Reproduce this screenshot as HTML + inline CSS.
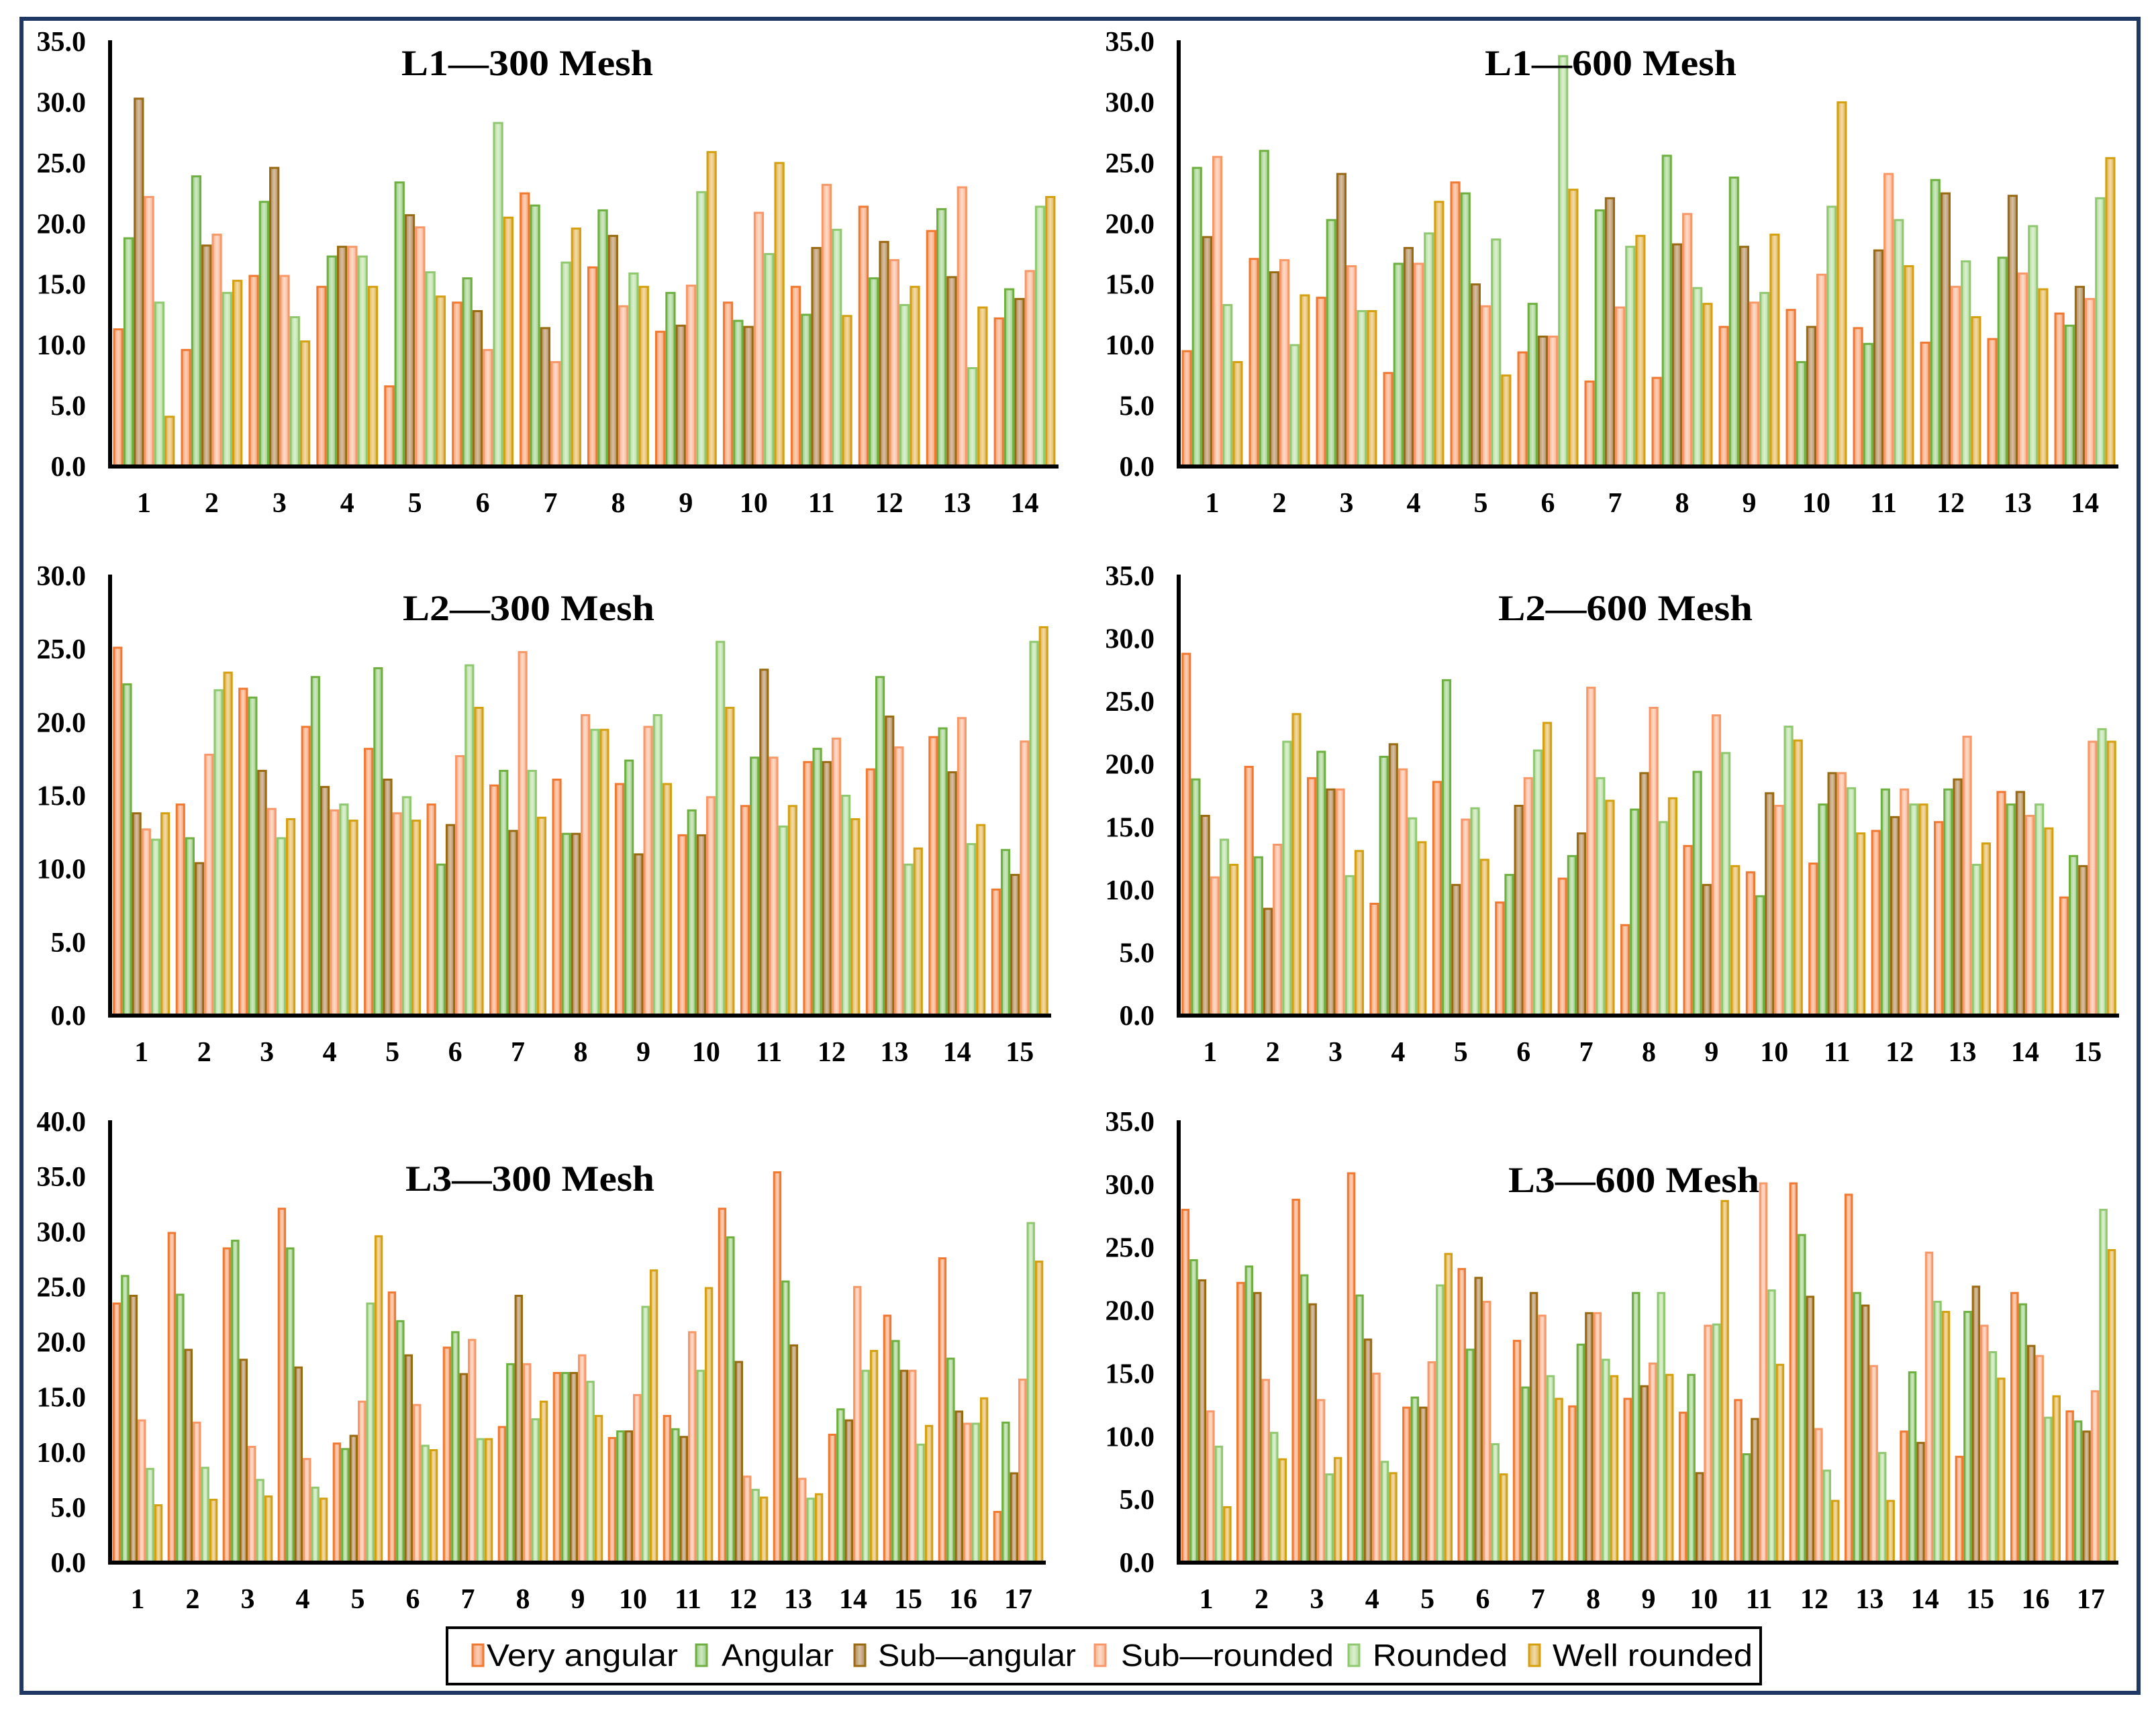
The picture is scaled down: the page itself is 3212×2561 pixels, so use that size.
<!DOCTYPE html>
<html><head><meta charset="utf-8"><style>
html,body{margin:0;padding:0;background:#fff;}
svg{display:block;}
</style></head><body>
<svg id="fig" xmlns="http://www.w3.org/2000/svg" width="3212" height="2561" viewBox="0 0 3212 2561">
<defs>
<linearGradient id="g0" x1="0" x2="1"><stop offset="0" stop-color="#F4A070"/><stop offset="0.5" stop-color="#FCD0B8"/><stop offset="1" stop-color="#F4A070"/></linearGradient>
<linearGradient id="g1" x1="0" x2="1"><stop offset="0" stop-color="#98CC80"/><stop offset="0.5" stop-color="#D0E8C4"/><stop offset="1" stop-color="#98CC80"/></linearGradient>
<linearGradient id="g2" x1="0" x2="1"><stop offset="0" stop-color="#B08A58"/><stop offset="0.5" stop-color="#D8C0A4"/><stop offset="1" stop-color="#B08A58"/></linearGradient>
<linearGradient id="g3" x1="0" x2="1"><stop offset="0" stop-color="#F8B08C"/><stop offset="0.5" stop-color="#FDDCCB"/><stop offset="1" stop-color="#F8B08C"/></linearGradient>
<linearGradient id="g4" x1="0" x2="1"><stop offset="0" stop-color="#B0DC98"/><stop offset="0.5" stop-color="#DDF0D2"/><stop offset="1" stop-color="#B0DC98"/></linearGradient>
<linearGradient id="g5" x1="0" x2="1"><stop offset="0" stop-color="#E0B050"/><stop offset="0.5" stop-color="#F2DCA8"/><stop offset="1" stop-color="#E0B050"/></linearGradient>
</defs>
<rect x="32" y="28" width="3154" height="2494" fill="none" stroke="#1F3864" stroke-width="6"/>
<g id="panels"></g>
<g>
<rect x="666" y="2425" width="1957" height="84" fill="#fff" stroke="#000" stroke-width="4"/>
<rect x="704" y="2450" width="16" height="32" fill="url(#g0)" stroke="#F07830" stroke-width="3"/>
<text x="725" y="2482" font-family="Liberation Sans, sans-serif" font-size="46" textLength="285" lengthAdjust="spacingAndGlyphs">Very angular</text>
<rect x="1037" y="2450" width="16" height="32" fill="url(#g1)" stroke="#6EB040" stroke-width="3"/>
<text x="1075" y="2482" font-family="Liberation Sans, sans-serif" font-size="46" textLength="167" lengthAdjust="spacingAndGlyphs">Angular</text>
<rect x="1273" y="2450" width="16" height="32" fill="url(#g2)" stroke="#9A6A10" stroke-width="3"/>
<text x="1308" y="2482" font-family="Liberation Sans, sans-serif" font-size="46" textLength="295" lengthAdjust="spacingAndGlyphs">Sub—angular</text>
<rect x="1631" y="2450" width="16" height="32" fill="url(#g3)" stroke="#F89868" stroke-width="3"/>
<text x="1670" y="2482" font-family="Liberation Sans, sans-serif" font-size="46" textLength="317" lengthAdjust="spacingAndGlyphs">Sub—rounded</text>
<rect x="2009" y="2450" width="16" height="32" fill="url(#g4)" stroke="#90C870" stroke-width="3"/>
<text x="2045" y="2482" font-family="Liberation Sans, sans-serif" font-size="46" textLength="201" lengthAdjust="spacingAndGlyphs">Rounded</text>
<rect x="2278" y="2450" width="16" height="32" fill="url(#g5)" stroke="#D4A010" stroke-width="3"/>
<text x="2313" y="2482" font-family="Liberation Sans, sans-serif" font-size="46" textLength="298" lengthAdjust="spacingAndGlyphs">Well rounded</text>
</g>
</svg>
<script>
// L1 300 Mesh
const l1_300_veryAngular=[11.3,9.6,15.7,14.8,6.6,13.5,22.5,16.4,11.1,13.5,14.8,21.4,19.4,12.2];
const l1_300_angular=[18.8,23.9,21.8,17.3,23.4,15.5,21.5,21.1,14.3,12.0,12.5,15.5,21.2,14.6];
const l1_300_subAngular=[30.3,18.2,24.6,18.1,20.7,12.8,11.4,19.0,11.6,11.5,18.0,18.5,15.6,13.8];
const l1_300_subRounded=[22.2,19.1,15.7,18.1,19.7,9.6,8.6,13.2,14.9,20.9,23.2,17.0,23.0,16.1];
const l1_300_rounded=[13.5,14.3,12.3,17.3,16.0,28.3,16.8,15.9,22.6,17.5,19.5,13.3,8.1,21.4];
const l1_300_wellRounded=[4.1,15.3,10.3,14.8,14.0,20.5,19.6,14.8,25.9,25.0,12.4,14.8,13.1,22.2];
// L1 600 Mesh
const l1_600_veryAngular=[9.5,17.1,13.9,7.7,23.4,9.4,7.0,7.3,11.5,12.9,11.4,10.2,10.5,12.6];
const l1_600_angular=[24.6,26.0,20.3,16.7,22.5,13.4,21.1,25.6,23.8,8.6,10.1,23.6,17.2,11.6];
const l1_600_subAngular=[18.9,16.0,24.1,18.0,15.0,10.7,22.1,18.3,18.1,11.5,17.8,22.5,22.3,14.8];
const l1_600_subRounded=[25.5,17.0,16.5,16.7,13.2,10.7,13.1,20.8,13.5,15.8,24.1,14.8,15.9,13.8];
const l1_600_rounded=[13.3,10.0,12.8,19.2,18.7,33.8,18.1,14.7,14.3,21.4,20.3,16.9,19.8,22.1];
const l1_600_wellRounded=[8.6,14.1,12.8,21.8,7.5,22.8,19.0,13.4,19.1,30.0,16.5,12.3,14.6,25.4];
// L2 300 Mesh
const l2_300_veryAngular=[25.1,14.4,22.3,19.7,18.2,14.4,15.7,16.1,15.8,12.3,14.3,17.3,16.8,19.0,8.6];
const l2_300_angular=[22.6,12.1,21.7,23.1,23.7,10.3,16.7,12.4,17.4,14.0,17.6,18.2,23.1,19.6,11.3];
const l2_300_subAngular=[13.8,10.4,16.7,15.6,16.1,13.0,12.6,12.4,11.0,12.3,23.6,17.3,20.4,16.6,9.6];
const l2_300_subRounded=[12.7,17.8,14.1,14.0,13.8,17.7,24.8,20.5,19.7,14.9,17.6,18.9,18.3,20.3,18.7];
const l2_300_rounded=[12.0,22.2,12.1,14.4,14.9,23.9,16.7,19.5,20.5,25.5,12.9,15.0,10.3,11.7,25.5];
const l2_300_wellRounded=[13.8,23.4,13.4,13.3,13.3,21.0,13.5,19.5,15.8,21.0,14.3,13.4,11.4,13.0,26.5];
// L2 600 Mesh
const l2_600_veryAngular=[28.8,19.8,18.9,8.9,18.6,9.0,10.9,7.2,13.5,11.4,12.1,14.7,15.4,17.8,9.4];
const l2_600_angular=[18.8,12.6,21.0,20.6,26.7,11.2,12.7,16.4,19.4,9.5,16.8,18.0,18.0,16.8,12.7];
const l2_600_subAngular=[15.9,8.5,18.0,21.6,10.4,16.7,14.5,19.3,10.4,17.7,19.3,15.8,18.8,17.8,11.9];
const l2_600_subRounded=[11.0,13.6,18.0,19.6,15.6,18.9,26.1,24.5,23.9,16.7,19.3,18.0,22.2,15.9,21.8];
const l2_600_rounded=[14.0,21.8,11.1,15.7,16.5,21.1,18.9,15.4,20.9,23.0,18.1,16.8,12.0,16.8,22.8];
const l2_600_wellRounded=[12.0,24.0,13.1,13.8,12.4,23.3,17.1,17.3,11.9,21.9,14.5,16.8,13.7,14.9,21.8];
// L3 300 Mesh
const l3_300_veryAngular=[23.5,29.9,28.5,32.1,10.8,24.5,19.5,12.3,17.2,11.3,13.3,32.1,35.4,11.6,22.4,27.6,4.6];
const l3_300_angular=[26.0,24.3,29.2,28.5,10.3,21.9,20.9,18.0,17.2,11.9,12.1,29.5,25.5,13.9,20.1,18.5,12.7];
const l3_300_subAngular=[24.2,19.3,18.4,17.7,11.5,18.8,17.1,24.2,17.2,11.9,11.4,18.2,19.7,12.9,17.4,13.7,8.1];
const l3_300_subRounded=[12.9,12.7,10.5,9.4,14.6,14.3,20.2,18.0,18.8,15.2,20.9,7.8,7.6,25.0,17.4,12.6,16.6];
const l3_300_rounded=[8.5,8.6,7.5,6.8,23.5,10.6,11.2,13.0,16.4,23.2,17.4,6.6,5.8,17.4,10.7,12.6,30.8];
const l3_300_wellRounded=[5.2,5.7,6.0,5.8,29.6,10.2,11.2,14.6,13.3,26.5,24.9,5.9,6.2,19.2,12.4,14.9,27.3];
// L3 600 Mesh
const l3_600_veryAngular=[28.0,22.2,28.8,30.9,12.3,23.3,17.6,12.4,13.0,11.9,12.9,30.1,29.2,10.4,8.4,21.4,12.0];
const l3_600_angular=[24.0,23.5,22.8,21.2,13.1,16.9,13.9,17.3,21.4,14.9,8.6,26.0,21.4,15.1,19.9,20.5,11.2];
const l3_600_subAngular=[22.4,21.4,20.5,17.7,12.3,22.6,21.4,19.8,14.0,7.1,11.4,21.1,20.4,9.5,21.9,17.2,10.4];
const l3_600_subRounded=[12.0,14.5,12.9,15.0,15.9,20.7,19.6,19.8,15.8,18.8,30.1,10.6,15.6,24.6,18.8,16.4,13.6];
const l3_600_rounded=[9.2,10.3,7.0,8.0,22.0,9.4,14.8,16.1,21.4,18.9,21.6,7.3,8.7,20.7,16.7,11.5,28.0];
const l3_600_wellRounded=[4.4,8.2,8.3,7.1,24.5,7.0,13.0,14.8,14.9,28.7,15.7,4.9,4.9,19.9,14.6,13.2,24.8];

const seriesNames=['very-angular','angular','sub-angular','sub-rounded','rounded','well-rounded'];
const strokes=['#F07830','#6EB040','#9A6A10','#F89868','#90C870','#D4A010'];
const NS='http://www.w3.org/2000/svg';
const root=document.getElementById('panels');

function mk(tag,attrs,parent){const e=document.createElementNS(NS,tag);for(const k in attrs)e.setAttribute(k,attrs[k]);parent.appendChild(e);return e;}

function panel(id,title,series,yMax,x0,x1,yTop,yBase,titleX,titleW,titleOff){
  const g=mk('g',{},root);
  
  
  const yScale=v=>yBase-(v/yMax)*(yBase-yTop);
  const n=series[0].length;
  const cw=(x1-x0)/n, gw=cw*0.91, bw=gw/6;
  for(let v=0;v<=yMax+0.001;v+=5){
    const t=mk('text',{x:x0-36,y:yScale(v)+14,'text-anchor':'end','font-family':'Liberation Serif, serif','font-weight':'bold','font-size':42},g);
    
    
    t.textContent=v.toFixed(1);
  }
  for(let i=0;i<n;i++){
    const t=mk('text',{x:x0+(i+0.5)*cw,y:yBase+68,'text-anchor':'middle','font-family':'Liberation Serif, serif','font-weight':'bold','font-size':42},g);
    
    
    t.textContent=String(i+1);
  }
  for(let s=0;s<6;s++){
    for(let i=0;i<n;i++){
      const v=series[s][i];
      const x=x0+i*cw+(cw-gw)/2+s*bw;
      const y=yScale(v);
      const r=mk('rect',{x:x+1.5,y:y,width:bw-3,height:yBase-y,fill:'url(#g'+s+')',stroke:strokes[s],'stroke-width':3},g);
      
      
    }
  }
  const ya=mk('line',{x1:x0,y1:yTop-2,x2:x0,y2:yBase+3,stroke:'#000','stroke-width':6},g);
  
  
  const xa=mk('line',{x1:x0-3,y1:yBase,x2:x1,y2:yBase,stroke:'#000','stroke-width':6},g);
  
  
  const tt=mk('text',{x:titleX,y:yTop+titleOff,'font-family':'Liberation Serif, serif','font-weight':'bold','font-size':54,textLength:titleW,lengthAdjust:'spacingAndGlyphs'},g);
  
  
  tt.textContent=title;
}

panel('l1-300','L1—300 Mesh',[l1_300_veryAngular,l1_300_angular,l1_300_subAngular,l1_300_subRounded,l1_300_rounded,l1_300_wellRounded],35,164,1577,62,695,598,375,50);
panel('l1-600','L1—600 Mesh',[l1_600_veryAngular,l1_600_angular,l1_600_subAngular,l1_600_subRounded,l1_600_rounded,l1_600_wellRounded],35,1756,3156,62,695,2212,375,50);
panel('l2-300','L2—300 Mesh',[l2_300_veryAngular,l2_300_angular,l2_300_subAngular,l2_300_subRounded,l2_300_rounded,l2_300_wellRounded],30,164,1566,858,1513,600,375,66);
panel('l2-600','L2—600 Mesh',[l2_600_veryAngular,l2_600_angular,l2_600_subAngular,l2_600_subRounded,l2_600_rounded,l2_600_wellRounded],35,1756,3157,858,1513,2232,379,66);
panel('l3-300','L3—300 Mesh',[l3_300_veryAngular,l3_300_angular,l3_300_subAngular,l3_300_subRounded,l3_300_rounded,l3_300_wellRounded],40,164,1558,1671,2328,604,371,103);
panel('l3-600','L3—600 Mesh',[l3_600_veryAngular,l3_600_angular,l3_600_subAngular,l3_600_subRounded,l3_600_rounded,l3_600_wellRounded],35,1756,3156,1671,2328,2247,374,105);
</script>
</body></html>
